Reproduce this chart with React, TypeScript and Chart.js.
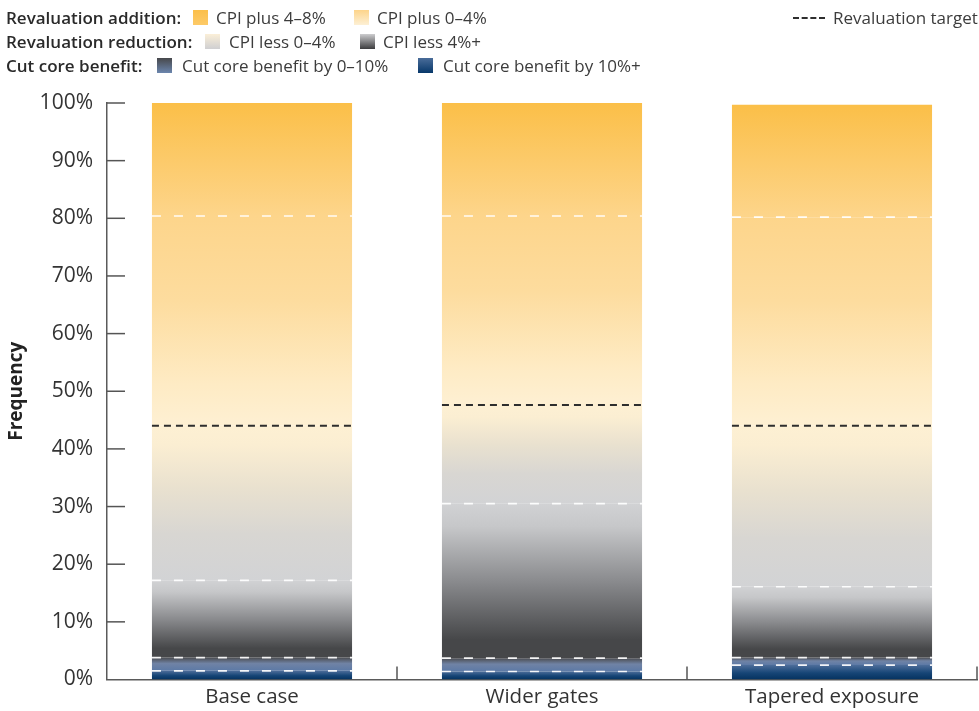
import React, { useEffect, useRef } from "react";
import { Chart, registerables } from "chart.js";

Chart.register(...registerables);

const FONT = "'Open Sans', 'Noto Sans', sans-serif";

// Categories and data (percent of simulations, upper edge of each band)
const categories = ["Base case", "Wider gates", "Tapered exposure"];
const bandBase = [0, 0, 0];
const cutCore10PlusTop = [1.5, 1.4, 2.5];
const cutCore0to10Top = [3.8, 3.7, 3.8];
const cpiLess4PlusTop = [17.2, 30.5, 16.1];
const revaluationTarget = [44.0, 47.6, 44.0];
const cpiPlus0to4Top = [80.4, 80.4, 80.2];
const cpiPlus4to8Top = [100, 100, 99.7];
const yTickValues = [0, 10, 20, 30, 40, 50, 60, 70, 80, 90, 100];

type Stop = [number, string];

const bands: { label: string; lo: number[]; hi: number[]; stops: Stop[] }[] = [
  {
    label: "Cut core benefit by 10%+",
    lo: bandBase,
    hi: cutCore10PlusTop,
    stops: [[0, "#053260"], [0.45, "#164576"], [1, "#4d6d9a"]],
  },
  {
    label: "Cut core benefit by 0–10%",
    lo: cutCore10PlusTop,
    hi: cutCore0to10Top,
    stops: [[0, "#5c79a6"], [0.55, "#7083a5"], [1, "#4b4c50"]],
  },
  {
    label: "CPI less 4%+",
    lo: cutCore0to10Top,
    hi: cpiLess4PlusTop,
    stops: [[0, "#464749"], [0.12, "#464749"], [0.5, "#8a8b8e"], [0.85, "#c6c7c9"], [1, "#d1d2d4"]],
  },
  {
    label: "CPI less 0–4%",
    lo: cpiLess4PlusTop,
    hi: revaluationTarget,
    stops: [[0, "#d2d3d5"], [0.3, "#d8d6d2"], [0.6, "#e9e1cf"], [0.88, "#fbeed2"], [1, "#fdf0d3"]],
  },
  {
    label: "CPI plus 0–4%",
    lo: revaluationTarget,
    hi: cpiPlus0to4Top,
    stops: [[0, "#fef0d3"], [0.2, "#feebc4"], [0.6, "#fddc9e"], [1, "#fdd58b"]],
  },
  {
    label: "CPI plus 4–8%",
    lo: cpiPlus0to4Top,
    hi: cpiPlus4to8Top,
    stops: [[0, "#fdd58b"], [1, "#fbbf48"]],
  },
];

const whiteEdges = [cutCore10PlusTop, cutCore0to10Top, cpiLess4PlusTop, cpiPlus0to4Top];

const overlayPlugin = {
  id: "overlay",
  afterDatasetsDraw(chart: any) {
    const { ctx } = chart;
    const y = chart.scales.y;
    const meta = chart.getDatasetMeta(0);
    ctx.save();
    meta.data.forEach((bar: any, i: number) => {
      const { x: cx, width } = bar.getProps(["x", "width"], true);
      const left = cx - width / 2;
      const right = cx + width / 2;
      ctx.setLineDash([9, 13]);
      ctx.strokeStyle = "rgba(255,255,255,0.92)";
      ctx.lineWidth = 1.6;
      whiteEdges.forEach((arr) => {
        const py = y.getPixelForValue(arr[i]);
        ctx.beginPath();
        ctx.moveTo(left, py);
        ctx.lineTo(right, py);
        ctx.stroke();
      });
      const ty = y.getPixelForValue(revaluationTarget[i]);
      ctx.setLineDash([7, 5]);
      ctx.strokeStyle = "#2e2e2e";
      ctx.lineWidth = 2;
      ctx.beginPath();
      ctx.moveTo(left, ty);
      ctx.lineTo(right, ty);
      ctx.stroke();
    });
    ctx.restore();
  },
  afterDraw(chart: any) {
    const { ctx, chartArea } = chart;
    const x = chart.scales.x;
    const y = chart.scales.y;
    ctx.save();
    ctx.setLineDash([]);
    ctx.strokeStyle = "#555555";
    ctx.lineWidth = 1.5;
    y.ticks.forEach((t: any) => {
      if (t.value === 0) return;
      const py = y.getPixelForValue(t.value);
      ctx.beginPath();
      ctx.moveTo(chartArea.left, py);
      ctx.lineTo(chartArea.left + 18, py);
      ctx.stroke();
    });
    const step = x.getPixelForValue(1) - x.getPixelForValue(0);
    for (let i = 0; i < categories.length; i++) {
      const px = x.getPixelForValue(i) + step / 2;
      ctx.beginPath();
      ctx.moveTo(px, chartArea.bottom);
      ctx.lineTo(px, chartArea.bottom - 13);
      ctx.stroke();
    }
    ctx.restore();
  },
};

const swatch = (bg: string): React.CSSProperties => ({
  position: "absolute",
  width: 15,
  height: 15,
  background: bg,
});

function LegendRow({ top, items }: { top: number; items: { left: number; kind: string; text?: string; bg?: string }[] }) {
  return (
    <>
      {items.map((it, k) =>
        it.kind === "swatch" ? (
          <div key={k} style={{ ...swatch(it.bg as string), left: it.left, top: top + 3 }} />
        ) : (
          <div
            key={k}
            style={{
              position: "absolute",
              left: it.left,
              top: top,
              lineHeight: "21px",
              fontSize: 17,
              fontFamily: FONT,
              fontWeight: it.kind === "head" ? 600 : 400,
              color: it.kind === "head" ? "#2a2a2a" : "#3c3c3c",
              whiteSpace: "nowrap",
            }}
          >
            {it.text}
          </div>
        )
      )}
    </>
  );
}

export default function App() {
  const canvasRef = useRef<HTMLCanvasElement | null>(null);

  useEffect(() => {
    const canvas = canvasRef.current;
    if (!canvas) return;
    const chart = new Chart(canvas, {
      type: "bar",
      data: {
        labels: categories,
        datasets: bands.map((b) => ({
          label: b.label,
          data: categories.map((_, i) => [b.lo[i], b.hi[i]]) as any,
          borderWidth: 0,
          grouped: false,
          categoryPercentage: 1,
          barPercentage: 0.69,
          backgroundColor: (c: any) => {
            const fallback = b.stops[0][1];
            if (c.type !== "data") return fallback;
            const ch = c.chart;
            const ys = ch.scales && ch.scales.y;
            if (!ys || !ch.chartArea) return fallback;
            const raw = c.raw as number[];
            const y0 = ys.getPixelForValue(raw[0]);
            const y1 = ys.getPixelForValue(raw[1]);
            if (!isFinite(y0) || !isFinite(y1) || y0 === y1) return fallback;
            const g = ch.ctx.createLinearGradient(0, y0, 0, y1);
            b.stops.forEach(([p, col]) => g.addColorStop(p, col));
            return g;
          },
        })),
      },
      options: {
        responsive: false,
        animation: false,
        layout: { padding: { top: 103, right: 2, left: 0, bottom: 0 } },
        plugins: { legend: { display: false }, tooltip: { enabled: false } },
        scales: {
          x: {
            grid: { display: false, drawTicks: false },
            border: { display: true, color: "#5a5a5a", width: 1.5 },
            ticks: {
              color: "#333333",
              font: { family: FONT, size: 20.5 },
              padding: 5,
              maxRotation: 0,
              autoSkip: false,
            },
            afterFit: (s: any) => {
              s.height = 31.5;
            },
          },
          y: {
            min: 0,
            max: 100,
            afterBuildTicks: (s: any) => {
              s.ticks = yTickValues.map((v) => ({ value: v }));
            },
            ticks: {
              color: "#333333",
              font: { family: FONT, size: 21 },
              padding: 14,
              callback: (v: any) => `${v}%`,
            },
            grid: { display: false, drawTicks: false },
            border: { display: true, color: "#5a5a5a", width: 1.5 },
            title: {
              display: true,
              text: "Frequency",
              color: "#222222",
              font: { family: FONT, size: 19, weight: "bold", lineHeight: 1.2 },
              padding: { top: 5.5, bottom: 0 },
            },
            afterFit: (s: any) => {
              s.width = 107;
            },
          },
        },
      },
      plugins: [overlayPlugin],
    });
    return () => chart.destroy();
  }, []);

  return (
    <div style={{ position: "fixed", left: 0, top: 0, width: 979, height: 711, background: "#fff", overflow: "hidden" }}>
      <canvas ref={canvasRef} width={979} height={711} style={{ position: "absolute", left: 0, top: 0, width: 979, height: 711 }} />
      <LegendRow
        top={7}
        items={[
          { left: 6, kind: "head", text: "Revaluation addition:" },
          { left: 193, kind: "swatch", bg: "linear-gradient(#fbbf4a, #fdca68)" },
          { left: 216, kind: "text", text: "CPI plus 4–8%" },
          { left: 354, kind: "swatch", bg: "linear-gradient(#fdd48a, #fdf0d5)" },
          { left: 377, kind: "text", text: "CPI plus 0–4%" },
        ]}
      />
      <LegendRow
        top={31}
        items={[
          { left: 6, kind: "head", text: "Revaluation reduction:" },
          { left: 205, kind: "swatch", bg: "linear-gradient(#fbefd8, #cfcfd1)" },
          { left: 229, kind: "text", text: "CPI less 0–4%" },
          { left: 360, kind: "swatch", bg: "linear-gradient(#cdcdcf, #3c3c3e)" },
          { left: 383, kind: "text", text: "CPI less 4%+" },
        ]}
      />
      <LegendRow
        top={55}
        items={[
          { left: 6, kind: "head", text: "Cut core benefit:" },
          { left: 157, kind: "swatch", bg: "linear-gradient(#47484b, #6c86ae)" },
          { left: 182, kind: "text", text: "Cut core benefit by 0–10%" },
          { left: 418, kind: "swatch", bg: "linear-gradient(#4a6c99, #07386a)" },
          { left: 443, kind: "text", text: "Cut core benefit by 10%+" },
        ]}
      />
      <div
        style={{
          position: "absolute",
          left: 793,
          top: 17,
          width: 32,
          height: 0,
          borderTop: "2px dashed #2e2e2e",
        }}
      />
      <div
        style={{
          position: "absolute",
          left: 833,
          top: 7,
          lineHeight: "21px",
          fontSize: 17,
          fontFamily: FONT,
          color: "#3c3c3c",
          whiteSpace: "nowrap",
        }}
      >
        Revaluation target
      </div>
    </div>
  );
}
